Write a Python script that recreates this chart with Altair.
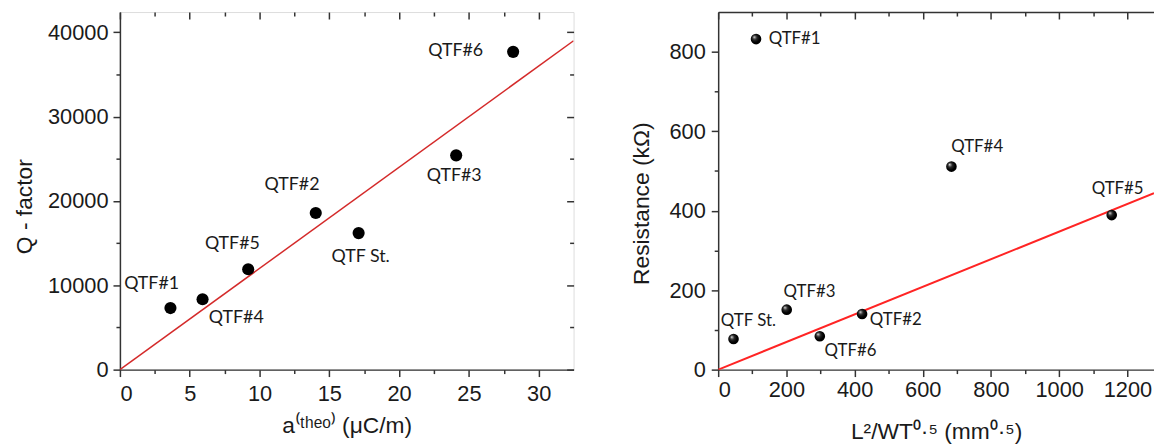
import altair as alt
import pandas as pd

# ---------------- Left panel: Q-factor vs a(theo) ----------------
Q_LABELS = ["QTF#1", "QTF#4", "QTF#5", "QTF#2", "QTF St.", "QTF#3", "QTF#6"]
Q_A = [3.62, 5.92, 9.19, 14.03, 17.1, 24.09, 28.17]
Q_FACTOR = [7300, 8350, 11900, 18580, 16190, 25410, 37680]
Q_FIT_X = [0, 32.5]
Q_FIT_Y = [0, 39000]
Q_X_MAJOR = [0, 5, 10, 15, 20, 25, 30]
Q_X_MINOR = [2.5, 7.5, 12.5, 17.5, 22.5, 27.5]
Q_Y_MAJOR = [0, 10000, 20000, 30000, 40000]
Q_Y_MINOR = [5000, 15000, 25000, 35000]

# ---------------- Right panel: Resistance vs L^2/WT^0.5 ----------------
R_LABELS = ["QTF#1", "QTF#4", "QTF#5", "QTF St.", "QTF#3", "QTF#6", "QTF#2"]
R_GEOM = [111, 684, 1154, 45, 201, 298, 422]
R_RES = [832, 511, 389, 77, 151, 84, 140]
R_FIT_X = [0, 1278]
R_FIT_Y = [0, 444]
R_X_MAJOR = [0, 200, 400, 600, 800, 1000, 1200]
R_X_MINOR = [100, 300, 500, 700, 900, 1100]
R_Y_MAJOR = [0, 200, 400, 600, 800]
R_Y_MINOR = [100, 300, 500, 700]

# label offsets (pixels) -- styling, not data
Q_OFFS = {"QTF#1": (-19, -24), "QTF#4": (34, 19), "QTF#5": (-16, -25), "QTF#2": (-24, -28),
          "QTF St.": (2, 24), "QTF#3": (-2, 21), "QTF#6": (-58, -1)}
R_OFFS = {"QTF#1": (39, 0), "QTF#4": (26, -20), "QTF#5": (6, -26), "QTF St.": (15, -18),
          "QTF#3": (23, -18), "QTF#6": (31, 15), "QTF#2": (34, 6)}

AX = "#333333"
TXT = "#1a1a1a"


def build_panel(pts, fit, xs, ys, xmaj, xmin, ymaj, ymin, xtitle, ytitle, offs,
                line_color, line_w, point_mark, lab_size, xlab_pad, ytitle_x, ytitle_y,
                xtitle_y, ylab_pad, right_mirror, top_frame):
    W = dict(tickColor=AX, tickWidth=1.5, domainColor=AX, domainWidth=1.5, grid=False)
    # minor bottom/left ticks (outward)
    line = alt.Chart(fit).mark_line(color=line_color, strokeWidth=line_w, clip=True).encode(
        x=alt.X("x:Q", scale=xs, axis=alt.Axis(orient="bottom", values=xmin, labels=False,
                                              domain=False, tickSize=4, title=None, **W)),
        y=alt.Y("y:Q", scale=ys, axis=alt.Axis(orient="left", values=ymin, labels=False,
                                              domain=False, tickSize=4, title=None, **W)),
    )
    # major bottom/left axes
    points = alt.Chart(pts).mark_point(**point_mark).encode(
        x=alt.X("x:Q", scale=xs, axis=alt.Axis(
            orient="bottom", values=xmaj, tickSize=7, labelPadding=xlab_pad,
            labelFont="Liberation Sans", labelFontSize=22, labelColor=TXT,
            title=xtitle, titleFont="Liberation Sans", titleFontSize=23,
            titleFontWeight="normal", titleColor=TXT, titleBaseline="alphabetic",
            titleY=xtitle_y, format="d", **W)),
        y=alt.Y("y:Q", scale=ys, axis=alt.Axis(
            orient="left", values=ymaj, tickSize=7, labelPadding=ylab_pad,
            labelFont="Liberation Sans", labelFontSize=22, labelColor=TXT,
            title=ytitle, titleFont="Liberation Sans", titleFontSize=23,
            titleFontWeight="normal", titleColor=TXT, titleBaseline="alphabetic",
            titleX=ytitle_x, titleY=ytitle_y, titleAngle=270, format="d", **W)),
    )
    # mirrored inward ticks: top/right
    def mirror(vals_x, vals_y, size):
        enc_y = (alt.Y("y:Q", scale=ys, axis=alt.Axis(orient="right", values=vals_y, labels=False,
                                                     domain=False, tickSize=size, offset=-size,
                                                     title=None, **W))
                 if right_mirror else alt.Y("y:Q", scale=ys, axis=None))
        return alt.Chart(pts).mark_point(opacity=0).encode(
            x=alt.X("x:Q", scale=xs, axis=alt.Axis(orient="top", values=vals_x, labels=False,
                                                  domain=False, tickSize=size, offset=-size,
                                                  title=None, **W)),
            y=enc_y,
        )
    layers = [line, points, mirror(xmaj, ymaj, 7), mirror(xmin, ymin, 4)]
    if top_frame:
        layers.append(alt.Chart(pts).mark_point(opacity=0).encode(
            x=alt.X("x:Q", scale=xs, axis=alt.Axis(orient="top", values=xmaj, labels=False,
                                                  ticks=False, domain=True, title=None, **W)),
            y=alt.Y("y:Q", scale=ys, axis=None)))
    for lab, (dx, dy) in offs.items():
        layers.append(alt.Chart(pts).transform_filter(alt.datum.label == lab).mark_text(
            dx=dx, dy=dy, font="Lato", fontSize=lab_size, color=TXT, baseline="middle",
            align="center").encode(
            x=alt.X("x:Q", scale=xs, axis=None),
            y=alt.Y("y:Q", scale=ys, axis=None),
            text="label:N"))
    return alt.layer(*layers).resolve_axis(x="independent", y="independent")


q_pts = pd.DataFrame({"label": Q_LABELS, "x": Q_A, "y": Q_FACTOR})
q_fit = pd.DataFrame({"x": Q_FIT_X, "y": Q_FIT_Y})
r_pts = pd.DataFrame({"label": R_LABELS, "x": R_GEOM, "y": R_RES})
r_fit = pd.DataFrame({"x": R_FIT_X, "y": R_FIT_Y})

left = build_panel(
    q_pts, q_fit,
    alt.Scale(domain=[0, 32.5], nice=False, zero=False),
    alt.Scale(domain=[0, 42400], nice=False, zero=False),
    Q_X_MAJOR, Q_X_MINOR, Q_Y_MAJOR, Q_Y_MINOR,
    "a\u207D\u1D57\u02B0\u1D49\u1D52\u207E (\u03BCC/m)", "Q - factor", Q_OFFS,
    "#d42a2a", 1.5,
    dict(filled=True, size=150, color="black", opacity=1, shape="circle"),
    18, 7, -89, 196, 63, 5, True, False,
).properties(width=458, height=361)

sphere = alt.RadialGradient(
    gradient="radial", x1=0.33, y1=0.3, r1=0.0, x2=0.45, y2=0.45, r2=0.6,
    stops=[alt.GradientStop(color="#ffffff", offset=0.0),
           alt.GradientStop(color="#9a9a9a", offset=0.12),
           alt.GradientStop(color="#2a2a2a", offset=0.35),
           alt.GradientStop(color="#000000", offset=0.7),
           alt.GradientStop(color="#000000", offset=1.0)])

right = build_panel(
    r_pts, r_fit,
    alt.Scale(domain=[0, 1278], nice=False, zero=False),
    alt.Scale(domain=[0, 900], nice=False, zero=False),
    R_X_MAJOR, R_X_MINOR, R_Y_MAJOR, R_Y_MINOR,
    "L\u00B2/WT\u2070\u00B7\u2075 (mm\u2070\u00B7\u2075)", "Resistance (k\u03A9)", R_OFFS,
    "#ff2424", 2,
    dict(filled=True, size=115, fill=sphere, opacity=1, shape="circle", strokeWidth=0),
    17, 3, -70, 193, 70, 6, False, True,
).properties(width=440, height=361, view=alt.ViewBackground(strokeOpacity=0))

chart = alt.hconcat(left, right, spacing=56).properties(
    padding={"left": 5, "top": 0, "right": 0, "bottom": 0}
).configure_view(stroke=AX, strokeWidth=1.5).configure(background="white")

chart.save("out.html", embed_options={"renderer": "svg", "actions": False})
